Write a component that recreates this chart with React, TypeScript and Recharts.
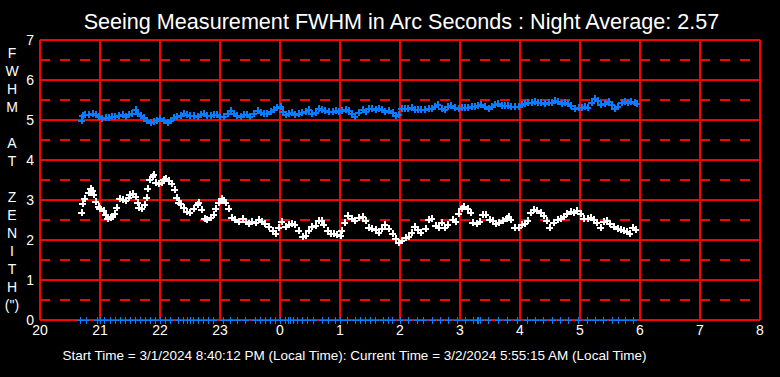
import React from 'react';
import { ScatterChart, Scatter, XAxis, YAxis, CartesianGrid, ReferenceLine } from 'recharts';

const titleText = 'Seeing Measurement FWHM in Arc Seconds : Night Average: 2.57';
const footerText = 'Start Time = 3/1/2024 8:40:12 PM (Local Time): Current Time = 3/2/2024 5:55:15 AM (Local Time)';
const yLabelLetters = ['F', 'W', 'H', 'M', '', 'A', 'T', '', 'Z', 'E', 'N', 'I', 'T', 'H', '(")'];

const xTicks = [20, 21, 22, 23, 24, 25, 26, 27, 28, 29, 30, 31, 32];
const yTicks = [0, 1, 2, 3, 4, 5, 6, 7];
const halfLines = [0.5, 1.5, 2.5, 3.5, 4.5, 5.5, 6.5];

// hours (20 = 8 PM, 24 = midnight, ...) and FWHM values
const zenithSeries: [number, number][] = [
  [20.68, 2.69], [20.70, 2.93], [20.74, 3.04], [20.80, 3.21], [20.83, 3.31], [20.86, 3.25], [20.88, 3.14],
  [20.91, 2.97], [20.96, 2.86], [20.99, 2.81], [21.05, 2.75], [21.09, 2.64], [21.12, 2.56], [21.16, 2.58],
  [21.20, 2.61], [21.24, 2.67], [21.27, 2.83], [21.31, 3.04], [21.36, 3.02], [21.41, 3.0], [21.46, 3.08],
  [21.49, 3.14], [21.53, 3.17], [21.58, 3.10], [21.61, 2.96], [21.64, 2.83], [21.69, 2.79], [21.73, 2.89],
  [21.76, 3.08], [21.79, 3.31], [21.81, 3.53], [21.86, 3.61], [21.89, 3.64], [21.92, 3.46], [21.97, 3.42],
  [22.01, 3.44], [22.05, 3.53], [22.09, 3.56], [22.13, 3.50], [22.19, 3.42], [22.23, 3.28], [22.27, 3.07],
  [22.30, 2.96], [22.34, 2.93], [22.38, 2.83], [22.44, 2.73], [22.49, 2.71], [22.55, 2.79], [22.61, 2.89],
  [22.64, 2.96], [22.69, 2.78], [22.73, 2.54], [22.77, 2.53], [22.83, 2.58], [22.88, 2.64], [22.92, 2.79],
  [22.97, 2.96], [23.01, 3.04], [23.05, 3.0], [23.09, 2.96], [23.14, 2.79], [23.18, 2.58], [23.24, 2.52],
  [23.30, 2.48], [23.36, 2.54], [23.41, 2.48], [23.47, 2.42], [23.52, 2.48], [23.58, 2.46], [23.63, 2.52],
  [23.69, 2.48], [23.74, 2.42], [23.80, 2.35], [23.86, 2.25], [23.91, 2.17], [23.97, 2.33], [24.02, 2.48],
  [24.08, 2.35], [24.13, 2.39], [24.19, 2.42], [24.24, 2.39], [24.30, 2.25], [24.36, 2.10], [24.41, 2.13],
  [24.47, 2.25], [24.52, 2.35], [24.58, 2.38], [24.63, 2.50], [24.68, 2.50], [24.72, 2.39], [24.78, 2.25],
  [24.83, 2.17], [24.89, 2.17], [24.94, 2.14], [25.0, 2.13], [25.02, 2.25], [25.07, 2.46], [25.12, 2.63],
  [25.18, 2.54], [25.24, 2.50], [25.30, 2.58], [25.36, 2.61], [25.41, 2.5], [25.47, 2.33], [25.52, 2.29],
  [25.58, 2.27], [25.63, 2.21], [25.69, 2.29], [25.74, 2.39], [25.80, 2.29], [25.86, 2.17], [25.91, 2.06],
  [25.97, 1.96], [26.02, 2.0], [26.08, 2.08], [26.13, 2.11], [26.18, 2.21], [26.23, 2.36], [26.29, 2.27],
  [26.34, 2.19], [26.41, 2.31], [26.47, 2.53], [26.52, 2.54], [26.58, 2.38], [26.63, 2.33], [26.68, 2.46],
  [26.73, 2.33], [26.79, 2.39], [26.86, 2.53], [26.91, 2.48], [26.97, 2.67], [27.01, 2.79], [27.05, 2.86],
  [27.11, 2.81], [27.16, 2.71], [27.20, 2.46], [27.26, 2.42], [27.31, 2.48], [27.37, 2.64], [27.42, 2.64],
  [27.48, 2.53], [27.53, 2.5], [27.59, 2.42], [27.64, 2.46], [27.70, 2.5], [27.76, 2.56], [27.80, 2.61],
  [27.84, 2.53], [27.90, 2.33], [27.96, 2.33], [28.01, 2.39], [28.07, 2.42], [28.12, 2.5], [28.16, 2.71],
  [28.22, 2.78], [28.27, 2.75], [28.33, 2.69], [28.38, 2.63], [28.44, 2.5], [28.49, 2.33], [28.55, 2.46],
  [28.61, 2.53], [28.66, 2.56], [28.72, 2.61], [28.77, 2.67], [28.83, 2.73], [28.88, 2.69], [28.94, 2.75],
  [29.0, 2.67], [29.05, 2.56], [29.11, 2.56], [29.16, 2.58], [29.22, 2.53], [29.27, 2.46], [29.33, 2.33],
  [29.38, 2.48], [29.44, 2.5], [29.49, 2.42], [29.55, 2.36], [29.61, 2.29], [29.66, 2.27], [29.72, 2.25],
  [29.77, 2.23], [29.81, 2.17], [29.86, 2.33], [29.91, 2.27],
];

const rawSeries: [number, number][] = [
  [20.68, 5.0], [20.70, 5.13], [20.74, 5.15], [20.80, 5.15], [20.86, 5.17], [20.91, 5.15], [20.97, 5.1],
  [21.02, 5.04], [21.08, 5.07], [21.13, 5.08], [21.19, 5.1], [21.24, 5.1], [21.30, 5.13], [21.36, 5.15],
  [21.41, 5.1], [21.47, 5.15], [21.52, 5.18], [21.58, 5.27], [21.62, 5.18], [21.66, 5.13], [21.72, 5.08],
  [21.77, 5.0], [21.83, 4.96], [21.88, 4.98], [21.94, 5.0], [21.99, 5.04], [22.05, 5.0], [22.11, 4.94],
  [22.16, 5.0], [22.22, 5.07], [22.27, 5.1], [22.33, 5.13], [22.38, 5.18], [22.44, 5.15], [22.49, 5.13],
  [22.55, 5.13], [22.61, 5.1], [22.66, 5.15], [22.72, 5.18], [22.77, 5.13], [22.83, 5.13], [22.88, 5.15],
  [22.94, 5.15], [22.99, 5.1], [23.05, 5.1], [23.11, 5.18], [23.16, 5.25], [23.22, 5.18], [23.27, 5.13],
  [23.33, 5.1], [23.38, 5.15], [23.44, 5.15], [23.49, 5.1], [23.55, 5.18], [23.61, 5.25], [23.66, 5.21],
  [23.72, 5.18], [23.77, 5.18], [23.83, 5.23], [23.89, 5.27], [23.94, 5.32], [24.0, 5.35], [24.03, 5.23],
  [24.08, 5.15], [24.13, 5.18], [24.19, 5.21], [24.24, 5.15], [24.30, 5.18], [24.35, 5.21], [24.41, 5.23],
  [24.47, 5.27], [24.52, 5.18], [24.58, 5.21], [24.63, 5.29], [24.69, 5.27], [24.74, 5.25], [24.80, 5.23],
  [24.86, 5.23], [24.91, 5.25], [24.97, 5.23], [25.02, 5.25], [25.08, 5.27], [25.13, 5.25], [25.19, 5.18],
  [25.24, 5.10], [25.30, 5.21], [25.36, 5.28], [25.41, 5.23], [25.47, 5.29], [25.52, 5.31], [25.58, 5.28],
  [25.63, 5.31], [25.69, 5.28], [25.74, 5.23], [25.80, 5.25], [25.86, 5.21], [25.91, 5.13], [25.96, 5.14],
  [26.01, 5.29], [26.07, 5.31], [26.12, 5.31], [26.18, 5.33], [26.23, 5.28], [26.29, 5.28], [26.34, 5.28],
  [26.40, 5.28], [26.46, 5.29], [26.51, 5.31], [26.57, 5.36], [26.62, 5.39], [26.68, 5.31], [26.73, 5.28],
  [26.79, 5.36], [26.84, 5.38], [26.90, 5.33], [26.96, 5.31], [27.01, 5.33], [27.07, 5.33], [27.12, 5.33],
  [27.18, 5.36], [27.23, 5.36], [27.29, 5.38], [27.34, 5.39], [27.40, 5.36], [27.46, 5.31], [27.51, 5.36],
  [27.57, 5.39], [27.62, 5.42], [27.68, 5.38], [27.73, 5.38], [27.79, 5.38], [27.84, 5.36], [27.90, 5.36],
  [27.96, 5.36], [28.01, 5.39], [28.07, 5.42], [28.12, 5.44], [28.18, 5.44], [28.23, 5.48], [28.29, 5.46],
  [28.34, 5.44], [28.40, 5.42], [28.46, 5.44], [28.51, 5.46], [28.57, 5.5], [28.62, 5.48], [28.68, 5.42],
  [28.73, 5.44], [28.79, 5.42], [28.84, 5.38], [28.90, 5.31], [28.96, 5.33], [29.01, 5.33], [29.07, 5.36],
  [29.12, 5.33], [29.18, 5.46], [29.23, 5.54], [29.29, 5.5], [29.34, 5.39], [29.40, 5.42], [29.46, 5.48],
  [29.51, 5.39], [29.57, 5.29], [29.62, 5.36], [29.68, 5.46], [29.73, 5.48], [29.79, 5.44], [29.84, 5.48],
  [29.90, 5.44], [29.93, 5.42],
];

const zeroMarkTimes: number[] = [
  20.667, 20.767, 20.95, 21.0, 21.067, 21.167, 21.25, 21.333, 21.417, 21.5, 21.583, 21.667, 21.75, 21.833,
  21.917, 22.0, 22.083, 22.167, 22.3, 22.383, 22.45, 22.5, 22.55, 22.633, 22.717, 22.8, 22.883, 23.05,
  23.167, 23.283, 23.417, 23.583, 23.667, 23.75, 23.833, 23.917, 24.0, 24.083, 24.133, 24.167, 24.217,
  24.283, 24.367, 24.45, 24.55, 24.7, 24.8, 24.917, 25.0, 25.117, 25.25, 25.333, 25.417, 25.5, 25.583,
  25.717, 25.8, 25.867, 26.0, 26.133, 26.283, 26.383, 26.533, 26.667, 26.8, 26.95, 27.083, 27.217, 27.283,
  27.3, 27.333, 27.467, 27.633, 27.783, 27.95, 28.117, 28.25, 28.383, 28.533, 28.667, 28.8, 28.967, 29.117,
  29.25, 29.383, 29.533, 29.633, 29.75, 29.883,
];

const toPoints = (arr: [number, number][]) => arr.map(([t, v]) => ({ t, v }));
const zenithData = toPoints(zenithSeries);
const rawData = toPoints(rawSeries);
const zeroData = zeroMarkTimes.map((t) => ({ t, v: 0 }));

const BLUE = '#0a7cff';
const RED = '#ff0000';
const FONT = '"Liberation Sans", Arial, sans-serif';

const makeCross = (color: string, w: number) => (props: any) => {
  const { cx, cy } = props;
  if (cx == null || cy == null) return <g />;
  const x = Math.round(cx) + 0.5;
  const y = Math.round(cy) + 0.5;
  return (
    <g shapeRendering="crispEdges">
      <line x1={x - 3.5} x2={x + 3.5} y1={y} y2={y} stroke={color} strokeWidth={w} />
      <line x1={x} x2={x} y1={y - 3.5} y2={y + 3.5} stroke={color} strokeWidth={w} />
    </g>
  );
};

const css = `
.recharts-cartesian-grid line, .recharts-reference-line line { shape-rendering: crispEdges; }
`;

export default function App() {
  return (
    <div style={{ position: 'fixed', left: 0, top: 0, width: 780, height: 377, background: '#000' }}>
      <style>{css}</style>
      <ScatterChart width={780} height={377} margin={{ top: 40, right: 20, bottom: 27, left: 0 }}>
        <CartesianGrid stroke={RED} strokeWidth={1.5} fill="none" />
        {halfLines.map((h) => (
          <ReferenceLine key={h} y={h} stroke={RED} strokeDasharray="10 10" strokeWidth={1.5} />
        ))}
        <XAxis
          type="number"
          dataKey="t"
          domain={[20, 32]}
          ticks={xTicks}
          interval={0}
          tickFormatter={(v: number) => String(v % 24)}
          axisLine={false}
          tickLine={false}
          tickSize={0}
          tickMargin={5}
          height={30}
          tick={{ fill: '#fff', fontSize: 14, fontFamily: FONT }}
        />
        <YAxis
          type="number"
          dataKey="v"
          domain={[0, 7]}
          ticks={yTicks}
          interval={0}
          axisLine={false}
          tickLine={false}
          tickSize={0}
          tickMargin={6}
          width={40}
          tick={{ fill: '#fff', fontSize: 14, fontFamily: FONT }}
        />
        <Scatter data={rawData} isAnimationActive={false} shape={makeCross(BLUE, 2)} />
        <Scatter data={zenithData} isAnimationActive={false} shape={makeCross('#ffffff', 2)} />
        <Scatter data={zeroData} isAnimationActive={false} shape={makeCross(BLUE, 1)} />
      </ScatterChart>
      <svg width={780} height={377} style={{ position: 'absolute', left: 0, top: 0, pointerEvents: 'none' }}>
        <text x={401.5} y={29} textAnchor="middle" fill="#fff" fontSize={21.6} fontFamily={FONT}>
          {titleText}
        </text>
        <text x={354.5} y={360} textAnchor="middle" fill="#fff" fontSize={13.5} fontFamily={FONT}>
          {footerText}
        </text>
        {yLabelLetters.map((ch, i) => (
          <text key={i} x={12} y={58 + i * 18} textAnchor="middle" fill="#fff" fontSize={14} fontFamily={FONT}>
            {ch}
          </text>
        ))}
      </svg>
    </div>
  );
}
